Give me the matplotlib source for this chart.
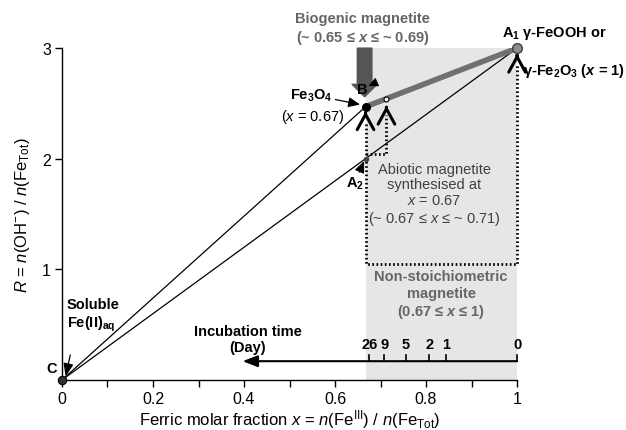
import numpy as np
import matplotlib
matplotlib.use('Agg')
import matplotlib.pyplot as plt

plt.rcParams['font.family'] = 'Liberation Sans'
plt.rcParams['mathtext.fontset'] = 'custom'
plt.rcParams['mathtext.rm'] = 'Liberation Sans'
plt.rcParams['mathtext.it'] = 'Liberation Sans:italic'
plt.rcParams['mathtext.bf'] = 'Liberation Sans:bold'
plt.rcParams['mathtext.bfit'] = 'Liberation Sans:italic:bold'

# key points (x = ferric fraction, R = OH/Fe ratio)
x_C, R_C = 0.0, 0.0
x_A1, R_A1 = 1.0, 3.0
x_A2, R_A2 = 0.667, 2.0
x_fe3o4, R_fe3o4 = 0.667, 2.47
x_bio, R_bio = 0.713, 2.54

# non-stoichiometric magnetite domain
shade_x = [0.667, 1.0]
box_bottom = 1.05

# incubation time scale
days = [26, 9, 5, 2, 1, 0]
day_x = [0.675, 0.708, 0.756, 0.807, 0.844, 1.0]
time_R = 0.17

x_ticks = [0, 0.1, 0.2, 0.3, 0.4, 0.5, 0.6, 0.7, 0.8, 0.9, 1.0]
x_labels = ['0', '', '0.2', '', '0.4', '', '0.6', '', '0.8', '', '1']
y_ticks = [1, 2, 3]

fig = plt.figure(figsize=(6.26, 4.31), dpi=100)
ax = fig.add_axes([0.099, 0.116, 0.727, 0.770])

ax.axvspan(shade_x[0], shade_x[1], ymin=0, ymax=1, color='#e6e6e6', lw=0, zorder=0)

# thin lines from C
ax.plot([x_C, x_A1], [R_C, R_A1], color='black', lw=0.9, zorder=2)
ax.plot([x_C, x_fe3o4], [R_C, R_fe3o4], color='black', lw=0.9, zorder=2)

# thick grey line Fe3O4 -> A1
ax.plot([x_fe3o4, x_A1], [R_fe3o4, R_A1], color='#707070', lw=4.0, solid_capstyle='butt', zorder=3)

# dotted box and path
dot = dict(color='black', lw=2.0, ls=(0, (0.6, 0.9)), zorder=2, clip_on=False)
ax.plot([x_fe3o4, x_fe3o4, x_A1, x_A1], [2.31, box_bottom, box_bottom, 2.86], **dot)
ax.plot([x_A2, x_bio, x_bio], [R_A2 + 0.04, R_A2 + 0.04, 2.40], **dot)

# open chevrons (arrow heads) under the points
chev = dict(arrowstyle='->,head_length=1.1,head_width=0.6', color='black', lw=2.2,
            mutation_scale=10, shrinkA=0, shrinkB=0)
for cx, cy in [(x_fe3o4, R_fe3o4 - 0.04), (x_bio, R_bio - 0.06), (x_A1, R_A1 - 0.05)]:
    ax.annotate('', xy=(cx, cy), xytext=(cx, cy - 0.02), arrowprops=chev, annotation_clip=False)

# points
ax.plot(x_C, R_C, 'o', ms=6, mfc='#333333', mec='black', mew=0.8, clip_on=False, zorder=5)
ax.plot(x_A1, R_A1, 'o', ms=7, mfc='#8c8c8c', mec='#404040', mew=1.0, clip_on=False, zorder=5)
ax.plot(x_fe3o4, R_fe3o4, 'o', ms=5.5, mfc='black', mec='black', zorder=5)
ax.plot(x_bio, R_bio, 'o', ms=3.5, mfc='white', mec='black', mew=0.8, zorder=5)
ax.plot(x_A2, R_A2, 'o', ms=3, mfc='#444444', mec='#444444', zorder=5)

# biogenic arrow
ax.annotate('', xy=(0.665, 2.56), xytext=(0.665, 3.0),
            arrowprops=dict(arrowstyle='simple,head_length=9,head_width=18,tail_width=10.5',
                            mutation_scale=1, color='#555555', shrinkA=0, shrinkB=0),
            annotation_clip=False, zorder=4)
ax.text(0.66, 3.18, 'Biogenic magnetite\n(~ 0.65 \u2264 $\\mathbfit{x}$ \u2264 ~ 0.69)',
        ha='center', va='center', fontsize=10.5, fontweight='bold', color='#666666', linespacing=1.2)

# labels
small_arrow = dict(arrowstyle='-|>,head_length=0.7,head_width=0.3', color='black', lw=0.9,
                   mutation_scale=10, shrinkA=0, shrinkB=0)
ax.annotate('$\\mathbf{Fe_3O_4}$', xy=(x_fe3o4 - 0.012, R_fe3o4 + 0.02), xytext=(0.548, 2.58),
            ha='center', va='center', fontsize=10.5, arrowprops=small_arrow)
ax.text(0.55, 2.385, '($x$ = 0.67)', ha='center', va='center', fontsize=10.5)
ax.annotate('', xy=(0.674, 2.66), xytext=(0.688, 2.685),
            arrowprops=dict(arrowstyle='-|>,head_length=0.55,head_width=0.28', color='black', lw=0.8,
                            mutation_scale=10, shrinkA=0, shrinkB=0), zorder=6)
ax.text(0.66, 2.63, 'B', ha='center', va='center', fontsize=10.5, fontweight='bold', zorder=6)

ax.text(0.967, 3.14, '$\\mathbf{A_1}$ \u03b3-FeOOH or', ha='left', va='center',
        fontsize=10.5, fontweight='bold')
ax.text(1.013, 2.8, '\u03b3-$\\mathbf{Fe_2O_3}$ ($\\mathbfit{x}$ = 1)', ha='left', va='center',
        fontsize=10.5, fontweight='bold')

ax.annotate('$\\mathbf{A_2}$', xy=(x_A2 - 0.003, R_A2 - 0.02), xytext=(0.643, 1.78),
            ha='center', va='center', fontsize=10.5, arrowprops=small_arrow)

ax.text(0.818, 1.68, 'Abiotic magnetite\nsynthesised at\n$x$ = 0.67\n(~ 0.67 \u2264 $x$ \u2264 ~ 0.71)',
        ha='center', va='center', fontsize=10.5, color='#404040', linespacing=1.15)
ax.text(0.833, 0.77, 'Non-stoichiometric\nmagnetite\n(0.67 \u2264 $\\mathbfit{x}$ \u2264 1)',
        ha='center', va='center', fontsize=10.5, fontweight='bold', color='#666666', linespacing=1.2)

ax.annotate('Soluble\n$\\mathbf{Fe(II)_{aq}}$', xy=(0.008, 0.03), xytext=(0.011, 0.585),
            ha='left', va='center', fontsize=10.5, fontweight='bold', linespacing=1.2,
            arrowprops=dict(arrowstyle='-|>,head_length=0.8,head_width=0.3', color='black', lw=0.9,
                            mutation_scale=10, shrinkA=14, shrinkB=0,
                            relpos=(0.15, 0.0)))
ax.text(-0.022, 0.11, 'C', ha='center', va='center', fontsize=10.5, fontweight='bold')

# incubation time axis
ax.annotate('', xy=(0.397, time_R), xytext=(1.0, time_R),
            arrowprops=dict(arrowstyle='-|>,head_length=0.9,head_width=0.35', color='black', lw=1.5,
                            mutation_scale=10, shrinkA=0, shrinkB=0))
for d, dx in zip(days, day_x):
    ax.plot([dx, dx], [time_R, time_R + 0.055], color='black', lw=1.2, clip_on=False)
    ax.text(dx, 0.325, str(d), ha='center', va='center', fontsize=10.5, fontweight='bold')
ax.text(0.408, 0.37, 'Incubation time\n(Day)', ha='center', va='center', fontsize=10.5,
        fontweight='bold', linespacing=1.2)

# axes
ax.set_xlim(0, 1)
ax.set_ylim(0, 3)
ax.set_xticks(x_ticks)
ax.set_xticklabels(x_labels)
ax.set_yticks(y_ticks)
ax.tick_params(direction='out', length=5, width=1, labelsize=11.5, pad=3)
for s in ['top', 'right']:
    ax.spines[s].set_visible(False)
for s in ['left', 'bottom']:
    ax.spines[s].set_linewidth(1.0)
ax.set_xlabel('Ferric molar fraction $x$ = $n$(Fe$^{\\mathrm{III}}$) / $n$(Fe$_{\\mathrm{Tot}}$)',
              fontsize=12, labelpad=1)
ax.set_ylabel('$R$ = $n$(OH$^{-}$) / $n$(Fe$_{\\mathrm{Tot}}$)', fontsize=12, labelpad=7)

fig.savefig('out.png', dpi=100)
